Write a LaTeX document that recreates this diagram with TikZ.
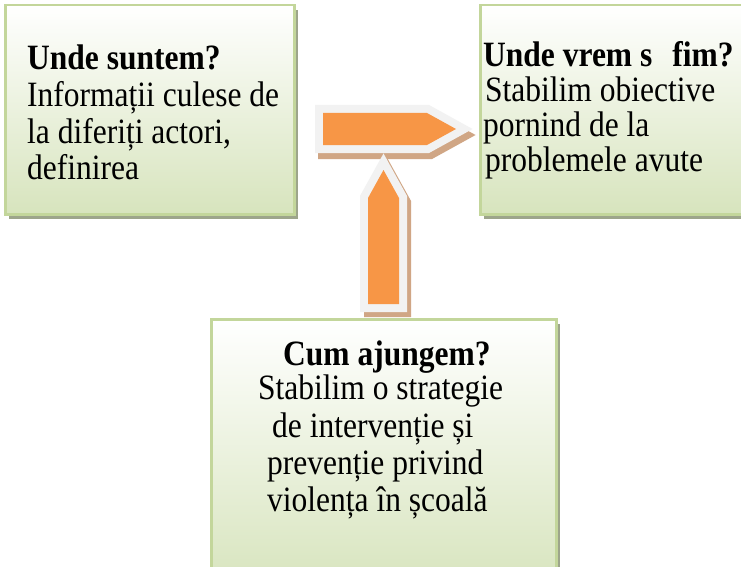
\documentclass[tikz,border=0pt]{standalone}
\usepackage{fontspec}
\usepackage{graphicx}
\setmainfont{Liberation Serif}
\usetikzlibrary{shadows}
\definecolor{boxline}{HTML}{C3D69B}
\definecolor{boxfill}{HTML}{D7E4BD}
\definecolor{boxshadow}{HTML}{9DA58B}
\definecolor{arrfill}{HTML}{F79646}
\definecolor{arrline}{HTML}{F2F2F2}
\definecolor{arrshadow}{HTML}{D0A685}
\newcommand{\tstretch}[1]{\scalebox{1}[1.13]{#1}}
\tikzset{
  panel/.style={rectangle, draw=boxline, line width=2.5pt, top color=white,
    bottom color=boxfill, inner sep=0pt, anchor=north west,
    drop shadow={shadow xshift=4pt, shadow yshift=-5pt, fill=boxshadow, opacity=1}},
  txt/.style={inner sep=0pt, anchor=base west, font=\fontsize{31.5}{36}\selectfont},
  arrowshade/.style={draw=arrshadow, fill=arrshadow, line width=16pt, line join=miter},
  arrowglow/.style={draw=arrline, fill=arrline, line width=16pt, line join=miter},
  arrowbody/.style={fill=arrfill}
}
\begin{document}
\begin{tikzpicture}[x=1pt,y=-1pt]
\clip (0,0) rectangle (741,567);
\fill[white] (0,0) rectangle (741,567);
% boxes
\node[panel, minimum width=289pt, minimum height=209pt] (b1) at (4,4) {};
\node[panel, minimum width=280pt, minimum height=209pt] (b2) at (479,4) {};
\node[panel, minimum width=345pt, minimum height=270pt] (b3) at (210,318) {};
% horizontal arrow
\path[arrowshade, shift={(3,6)}] (323,113) -- (427,113) -- (456,129) -- (427,145) -- (323,145) -- cycle;
\path[arrowglow] (323,113) -- (427,113) -- (456,129) -- (427,145) -- (323,145) -- cycle;
\path[arrowbody] (323,113) -- (427,113) -- (456,129) -- (427,145) -- (323,145) -- cycle;
% vertical arrow
\path[arrowshade, shift={(4,5)}] (368,304) -- (368,198) -- (383.5,170) -- (399,198) -- (399,304) -- cycle;
\path[arrowglow] (368,304) -- (368,198) -- (383.5,170) -- (399,198) -- (399,304) -- cycle;
\path[arrowbody] (368,304) -- (368,198) -- (383.5,170) -- (399,198) -- (399,304) -- cycle;
% texts box 1
\node[txt] (t1a) at (27,70) {\tstretch{\bfseries Unde suntem?}};
\node[txt] (t1b) at (27,107) {\tstretch{Informații culese de}};
\node[txt] (t1c) at (27,143) {\tstretch{la diferiți actori,}};
\node[txt] (t1d) at (27,179) {\tstretch{definirea}};
% texts box 2
\node[txt] (t2a) at (483,67) {\tstretch{\bfseries Unde vrem s\hspace{20pt}fim?}};
\node[txt] (t2b) at (485,102) {\tstretch{Stabilim obiective}};
\node[txt] (t2c) at (483,136) {\tstretch{pornind de la}};
\node[txt] (t2d) at (485,171) {\tstretch{problemele avute}};
% texts box 3
\node[txt] (t3a) at (283,365) {\tstretch{\bfseries Cum ajungem?}};
\node[txt] (t3b) at (258,399) {\tstretch{Stabilim o strategie}};
\node[txt] (t3c) at (272,437) {\tstretch{de intervenție și}};
\node[txt] (t3d) at (267,474) {\tstretch{prevenție privind}};
\node[txt] (t3e) at (267,511) {\tstretch{violența în școală}};
\end{tikzpicture}
\end{document}
